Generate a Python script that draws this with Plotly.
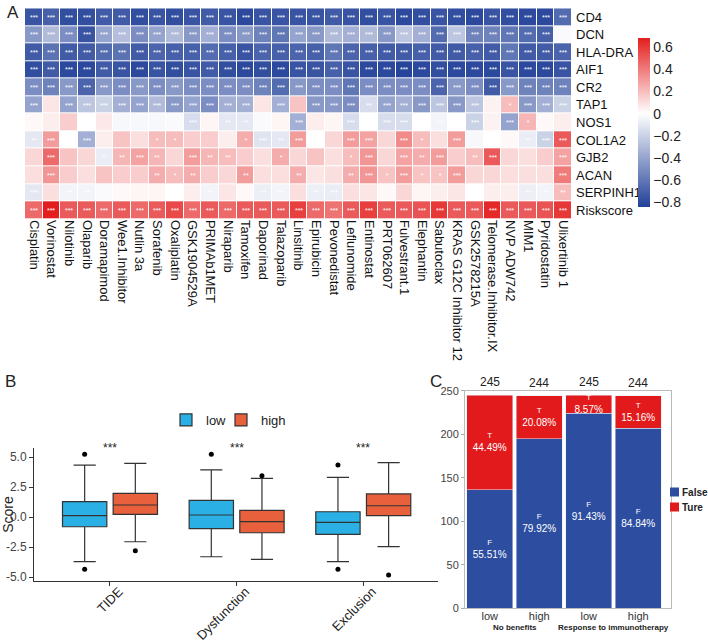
import plotly.graph_objects as go

# ---------------- panel A : correlation heatmap ----------------
drugs = ["Cisplatin", "Vorinostat", "Nilotinib", "Olaparib", "Doramapimod", "Wee1.Inhibitor",
         "Nutlin 3a", "Sorafenib", "Oxaliplatin", "GSK1904529A", "PRIMAb1MET", "Niraparib",
         "Tamoxifen", "Daporinad", "Talazoparib", "Linsitinib", "Epirubicin", "Pevonedistat",
         "Leflunomide", "Entinostat", "PRT062607", "Fulvestrant.1", "Elephantin", "Sabutoclax",
         "KRAS G12C Inhibitor 12", "GSK2578215A", "Telomerase.Inhibitor.IX", "NVP ADW742",
         "MIM1", "Pyridostatin", "Ulixertinib 1"]
genes = ["CD4", "DCN", "HLA-DRA", "AIF1", "CR2", "TAP1", "NOS1", "COL1A2", "GJB2", "ACAN",
         "SERPINH1", "Riskscore"]

cd4 = [-0.75, -0.70, -0.78, -0.78, -0.72, -0.72, -0.78, -0.75, -0.78, -0.75, -0.72, -0.75, -0.80, -0.75, -0.75, -0.75,
       -0.75, -0.72, -0.75, -0.78, -0.75, -0.80, -0.78, -0.75, -0.78, -0.80, -0.75, -0.78, -0.80, -0.80, -0.65]
dcn = [-0.45, -0.30, -0.50, -0.75, -0.40, -0.28, -0.50, -0.40, -0.30, -0.45, -0.35, -0.50, -0.45, -0.55, -0.60, -0.40,
       -0.45, -0.30, -0.35, -0.30, -0.45, -0.25, -0.35, -0.65, -0.25, -0.55, -0.55, -0.60, -0.65, -0.70, -0.02]
hla_dra = [-0.72, -0.62, -0.72, -0.72, -0.65, -0.62, -0.72, -0.68, -0.70, -0.70, -0.65, -0.70, -0.75, -0.68, -0.70, -0.68,
           -0.70, -0.60, -0.68, -0.70, -0.72, -0.72, -0.70, -0.72, -0.72, -0.70, -0.72, -0.60, -0.72, -0.72, -0.68]
aif1 = [-0.78, -0.72, -0.80, -0.80, -0.72, -0.75, -0.80, -0.75, -0.78, -0.75, -0.72, -0.78, -0.80, -0.78, -0.80, -0.75,
        -0.75, -0.70, -0.75, -0.80, -0.80, -0.82, -0.80, -0.78, -0.80, -0.80, -0.80, -0.75, -0.80, -0.80, -0.75]
cr2 = [-0.50, -0.55, -0.45, -0.68, -0.45, -0.50, -0.45, -0.50, -0.45, -0.50, -0.50, -0.50, -0.50, -0.55, -0.65, -0.45,
       -0.50, -0.50, -0.60, -0.50, -0.50, -0.50, -0.50, -0.68, -0.45, -0.50, -0.72, -0.45, -0.55, -0.55, -0.55]
tap1 = [-0.40, 0.08, -0.40, -0.25, -0.20, -0.35, -0.40, -0.30, -0.45, -0.40, -0.50, -0.35, -0.35, 0.08, -0.35, 0.18,
        -0.45, -0.45, -0.50, -0.15, -0.40, -0.35, -0.45, -0.25, -0.45, -0.25, 0.04, 0.20, -0.45, -0.35, -0.20]
nos1 = [0.02, 0.05, 0.15, 0.00, 0.07, -0.03, -0.03, -0.03, -0.02, -0.15, 0.03, -0.10, -0.10, -0.02, 0.03, -0.35,
        0.05, 0.03, -0.15, 0.00, -0.15, -0.15, 0.00, -0.05, 0.00, -0.20, 0.04, -0.40, 0.22, 0.02, 0.05]
col1a2 = [-0.10, 0.30, 0.00, -0.35, 0.05, 0.18, 0.10, 0.20, 0.20, 0.15, 0.15, 0.05, 0.25, -0.12, -0.10, 0.30,
          0.00, 0.12, 0.30, 0.28, 0.12, 0.35, 0.20, 0.10, 0.30, -0.03, 0.00, 0.02, -0.08, -0.20, 0.50]
gjb2 = [0.12, 0.45, 0.18, 0.12, -0.08, 0.22, 0.28, 0.22, 0.12, 0.30, 0.22, 0.20, 0.15, 0.10, 0.25, 0.12,
        0.18, 0.10, 0.20, 0.32, 0.12, 0.28, 0.25, 0.30, 0.15, 0.20, 0.50, 0.12, 0.10, 0.15, 0.28]
acan = [0.10, 0.32, 0.15, 0.10, 0.18, 0.15, 0.15, 0.25, 0.20, 0.25, 0.15, 0.12, 0.30, 0.10, 0.10, 0.25,
        0.08, 0.10, 0.25, 0.32, 0.18, 0.30, 0.18, 0.18, 0.30, 0.12, 0.12, 0.10, 0.10, 0.10, 0.40]
serpinh1 = [-0.10, 0.10, -0.05, -0.05, -0.02, 0.02, 0.03, 0.03, 0.00, 0.05, -0.05, 0.08, 0.02, -0.07, -0.05, 0.10,
            -0.07, -0.08, 0.10, 0.08, 0.02, 0.12, 0.03, 0.05, 0.08, 0.00, 0.05, 0.05, -0.07, -0.05, 0.20]
riskscore = [0.45, 0.68, 0.50, 0.50, 0.45, 0.50, 0.45, 0.50, 0.55, 0.45, 0.50, 0.45, 0.50, 0.50, 0.50, 0.58,
             0.45, 0.42, 0.50, 0.58, 0.50, 0.50, 0.52, 0.60, 0.50, 0.50, 0.65, 0.50, 0.50, 0.52, 0.60]

# significance marks
sig_all = ["***"] * 31
sig_dcn = ["***"] * 30 + [""]
sig_tap1 = ["***", "", "***", "***", "***", "***", "***", "***", "***", "***", "***", "***", "***", "", "***", "",
            "***", "***", "***", "**", "***", "***", "***", "***", "***", "***", "", "*", "***", "***", "***"]
sig_nos1 = ["", "", "", "", "", "", "", "", "", "***", "", "**", "**", "", "", "***",
            "", "", "***", "", "***", "***", "", "**", "", "***", "", "***", "*", "", ""]
sig_col1a2 = ["**", "***", "", "***", "", "", "", "*", "*", "", "", "", "*", "***", "**", "***",
              "", "", "***", "***", "", "***", "*", "", "***", "*", "", "", "**", "***", "***"]
sig_gjb2 = ["", "***", "", "", "**", "**", "***", "**", "", "***", "**", "**", "", "", "*", "",
            "", "", "*", "***", "", "***", "**", "***", "", "**", "***", "", "", "", "***"]
sig_acan = ["", "***", "", "", "", "", "", "**", "*", "**", "", "", "**", "", "", "**",
            "", "", "**", "***", "*", "***", "*", "*", "***", "", "", "", "", "", "***"]
sig_serpinh1 = ["***", "", "**", "**", "", "", "", "", "", "", "**", "", "", "**", "**", "",
                "**", "***", "", "", "", "", "", "", "", "", "", "", "**", "**", "**"]

corr = [cd4, dcn, hla_dra, aif1, cr2, tap1, nos1, col1a2, gjb2, acan, serpinh1, riskscore]
stars = [sig_all, sig_dcn, sig_all, sig_all, sig_all, sig_tap1, sig_nos1, sig_col1a2,
         sig_gjb2, sig_acan, sig_serpinh1, sig_all]

zmin, zmax = -0.84, 0.68
mid = -zmin / (zmax - zmin)
heat_scale = [[0, "rgb(33,64,152)"], [mid, "rgb(255,255,255)"], [1, "rgb(228,30,30)"]]

# ---------------- panel B : TIDE boxplots ----------------
tide_cats = ["TIDE", "Dysfunction", "Exclusion"]
low_q1 = [-0.81, -0.97, -1.44]
low_med = [0.11, 0.17, -0.44]
low_q3 = [1.28, 1.39, 0.44]
low_lo = [-3.72, -3.31, -3.72]
low_hi = [4.33, 3.92, 3.31]
high_q1 = [0.22, -1.31, 0.11]
high_med = [1.00, -0.39, 0.94]
high_q3 = [1.97, 0.56, 1.92]
high_lo = [-2.06, -3.53, -2.47]
high_hi = [4.47, 3.22, 4.53]
low_out_cat = [0, 0, 1, 2, 2]
low_out_y = [5.22, -4.36, 5.22, 4.33, -4.36]
high_out_cat = [0, 1, 2]
high_out_y = [-2.81, 3.44, -4.83]
tide_sig = ["***", "***", "***"]

# ---------------- panel C : response stacked bars ----------------
groups = ["No benefits", "No benefits", "Response to immunotherapy", "Response to immunotherapy"]
risk = ["low", "high", "low", "high"]
false_n = [136, 195, 224, 207]
true_n = [109, 49, 21, 37]
totals = [f + t for f, t in zip(false_n, true_n)]

FONT = "Liberation Sans, Arial, sans-serif"
LOW_C, HIGH_C = "#2ab0e4", "#e8603c"
FALSE_C, TRUE_C = "#2c4da0", "#e31a1c"
off = 0.2

fig = go.Figure()

fig.add_trace(go.Heatmap(
    z=corr, x=drugs, y=genes, text=stars, texttemplate="%{text}",
    textfont=dict(color="white", size=7, family=FONT),
    colorscale=heat_scale, zmin=zmin, zmax=zmax, xgap=1, ygap=1,
    showscale=True, xaxis="x", yaxis="y",
    colorbar=dict(x=638 / 708, xanchor="left", y=1 - 122.5 / 643, yanchor="middle",
                  len=169 / 643, thickness=12, outlinewidth=0, ticks="", xpad=0, ypad=0,
                  tickvals=[-0.8, -0.6, -0.4, -0.2, 0, 0.2, 0.4, 0.6],
                  ticktext=["\u22120.8", "\u22120.6", "\u22120.4", "\u22120.2", "0", "0.2", "0.4", "0.6"],
                  tickfont=dict(size=14, family=FONT, color="#222")),
))

fig.add_trace(go.Box(
    name="low", x=[i - off for i in range(len(tide_cats))], q1=low_q1, median=low_med, q3=low_q3,
    lowerfence=low_lo, upperfence=low_hi, orientation="v", width=0.35, boxpoints=False,
    fillcolor=LOW_C, line=dict(color="#333", width=1.2), xaxis="x2", yaxis="y2", legend="legend"))
fig.add_trace(go.Box(
    name="high", x=[i + off for i in range(len(tide_cats))], q1=high_q1, median=high_med, q3=high_q3,
    lowerfence=high_lo, upperfence=high_hi, orientation="v", width=0.35, boxpoints=False,
    fillcolor=HIGH_C, line=dict(color="#333", width=1.2), xaxis="x2", yaxis="y2", legend="legend3"))
fig.add_trace(go.Scatter(
    x=[c - off for c in low_out_cat], y=low_out_y, mode="markers", showlegend=False,
    marker=dict(color="black", size=5), xaxis="x2", yaxis="y2"))
fig.add_trace(go.Scatter(
    x=[c + off for c in high_out_cat], y=high_out_y, mode="markers", showlegend=False,
    marker=dict(color="black", size=5), xaxis="x2", yaxis="y2"))

keys = [g + " | " + r for g, r in zip(groups, risk)]
fig.add_trace(go.Bar(
    name="False", x=keys, y=false_n, marker_color=FALSE_C, showlegend=False,
    text=["<span style='font-size:8px'>F</span><br>%.2f%%" % (100 * f / n) for f, n in zip(false_n, totals)],
    textposition="inside", insidetextanchor="middle", textangle=0,
    textfont=dict(color="white", size=10, family=FONT), xaxis="x3", yaxis="y3"))
fig.add_trace(go.Bar(
    name="Ture", x=keys, y=true_n, marker_color=TRUE_C, showlegend=False,
    text=["<span style='font-size:8px'>T</span><br>%.2f%%" % (100 * t / n) for t, n in zip(true_n, totals)],
    textposition="inside", insidetextanchor="middle", textangle=0,
    textfont=dict(color="white", size=10, family=FONT), xaxis="x3", yaxis="y3"))

annotations = [
    dict(text="A", x=5 / 708, y=1 - 12 / 643, xref="paper", yref="paper", showarrow=False,
         xanchor="left", yanchor="middle", font=dict(size=17, family=FONT, color="#222")),
    dict(text="B", x=3 / 708, y=1 - 381 / 643, xref="paper", yref="paper", showarrow=False,
         xanchor="left", yanchor="middle", font=dict(size=17, family=FONT, color="#222")),
    dict(text="C", x=428 / 708, y=1 - 381 / 643, xref="paper", yref="paper", showarrow=False,
         xanchor="left", yanchor="middle", font=dict(size=17, family=FONT, color="#222")),
]
for i, s in enumerate(tide_sig):
    annotations.append(dict(text=s, x=i, y=5.75, xref="x2", yref="y2", showarrow=False,
                            font=dict(size=12, family=FONT, color="#222")))

# totals above each bar of panel C
for k, n in zip(keys, totals):
    annotations.append(dict(text=str(n), x=k, y=n, xref="x3", yref="y3", showarrow=False,
                            yanchor="bottom", yshift=4, font=dict(size=12, family=FONT, color="#222")))

# group titles under panel C, centred on their pair of bars
for g in dict.fromkeys(groups):
    idx = [i for i, gg in enumerate(groups) if gg == g]
    annotations.append(dict(text="<b>%s</b>" % g, x=sum(idx) / len(idx), y=1 - 627 / 643,
                            xref="x3", yref="paper", showarrow=False, yanchor="middle",
                            font=dict(size=8, family=FONT, color="#222")))

# hand-drawn legend for panel C (sits tight against the right edge, as in the original)
shapes = []
for k, (lab, col) in enumerate([("False", FALSE_C), ("Ture", TRUE_C)]):
    yc = 492 + 15 * k
    shapes.append(dict(type="rect", xref="paper", yref="paper", x0=670 / 708, x1=679 / 708,
                       y0=1 - (yc + 4.5) / 643, y1=1 - (yc - 4.5) / 643,
                       fillcolor=col, line=dict(width=0)))
    annotations.append(dict(text="<b>%s</b>" % lab, x=680 / 708, y=1 - yc / 643, xref="paper",
                            yref="paper", showarrow=False, xanchor="left", yanchor="middle",
                            font=dict(size=10, family=FONT, color="#222")))

leg_font = dict(size=13, family=FONT, color="#222")
fig.update_layout(
    width=708, height=643, margin=dict(l=0, r=0, t=0, b=0),
    paper_bgcolor="white", plot_bgcolor="white", font=dict(family=FONT, color="#222"),
    barmode="stack", bargap=0.08, uniformtext=dict(minsize=8, mode="show"),
    xaxis=dict(domain=[25 / 708, 572 / 708], anchor="y", tickangle=90, ticks="", automargin=False,
               tickmode="array", tickvals=drugs, ticktext=drugs,
               tickfont=dict(size=13, family=FONT, color="#111"), showgrid=False, zeroline=False),
    yaxis=dict(domain=[1 - 219 / 643, 1 - 8.3 / 643], anchor="x", side="right", autorange="reversed",
               tickmode="array", tickvals=genes, ticktext=genes, automargin=False, ticklabelstandoff=3,
               ticks="", tickfont=dict(size=13, family=FONT, color="#111"), showgrid=False, zeroline=False),
    xaxis2=dict(domain=[34 / 708, 438 / 708], anchor="y2", range=[-0.6, 2.59], automargin=False,
                tickvals=list(range(len(tide_cats))), ticktext=tide_cats, tickangle=-45,
                ticks="outside", ticklen=4, tickcolor="#333", showline=True, linecolor="#333",
                ticklabelstandoff=-7, ticklabelshift=9,
                showgrid=False, zeroline=False, tickfont=dict(size=13, family=FONT, color="#222")),
    yaxis2=dict(domain=[1 - 581 / 643, 1 - 448 / 643], anchor="x2", range=[-5.33, 5.75], automargin=False,
                tickvals=[-5, -2.5, 0, 2.5, 5], ticktext=["-5.0", "-2.5", "0.0", "2.5", "5.0"],
                ticks="outside", ticklen=4, tickcolor="#333", showline=True, linecolor="#333",
                showgrid=False, zeroline=False, tickfont=dict(size=12, family=FONT, color="#444"),
                title=dict(text="Score", font=dict(size=14, family=FONT, color="#222"), standoff=4)),
    xaxis3=dict(domain=[465 / 708, 671 / 708], anchor="y3", automargin=False, tickangle=0,
                tickmode="array", tickvals=keys, ticktext=risk, ticks="", ticklabelstandoff=-3,
                showline=True, linecolor="#bbb", mirror=True,
                tickfont=dict(size=11, family=FONT, color="#333")),
    yaxis3=dict(domain=[1 - 608.3 / 643, 1 - 390.7 / 643], anchor="x3", range=[0, 250], automargin=False,
                tickvals=[0, 50, 100, 150, 200, 250], ticks="outside", ticklen=3, tickcolor="#aaa",
                showline=True, linecolor="#bbb", mirror=True, showgrid=False, zeroline=False,
                tickfont=dict(size=11, family=FONT, color="#444")),
    legend=dict(orientation="h", x=166 / 708, y=1 - 420 / 643, xanchor="left", yanchor="middle",
                font=leg_font, bgcolor="rgba(0,0,0,0)"),
    legend3=dict(orientation="h", x=221 / 708, y=1 - 420 / 643, xanchor="left", yanchor="middle",
                 font=leg_font, bgcolor="rgba(0,0,0,0)"),
    annotations=annotations,
    shapes=shapes,
)

fig.write_html("out.html", config={"displayModeBar": False},
               post_script="document.body.style.margin='0';")
